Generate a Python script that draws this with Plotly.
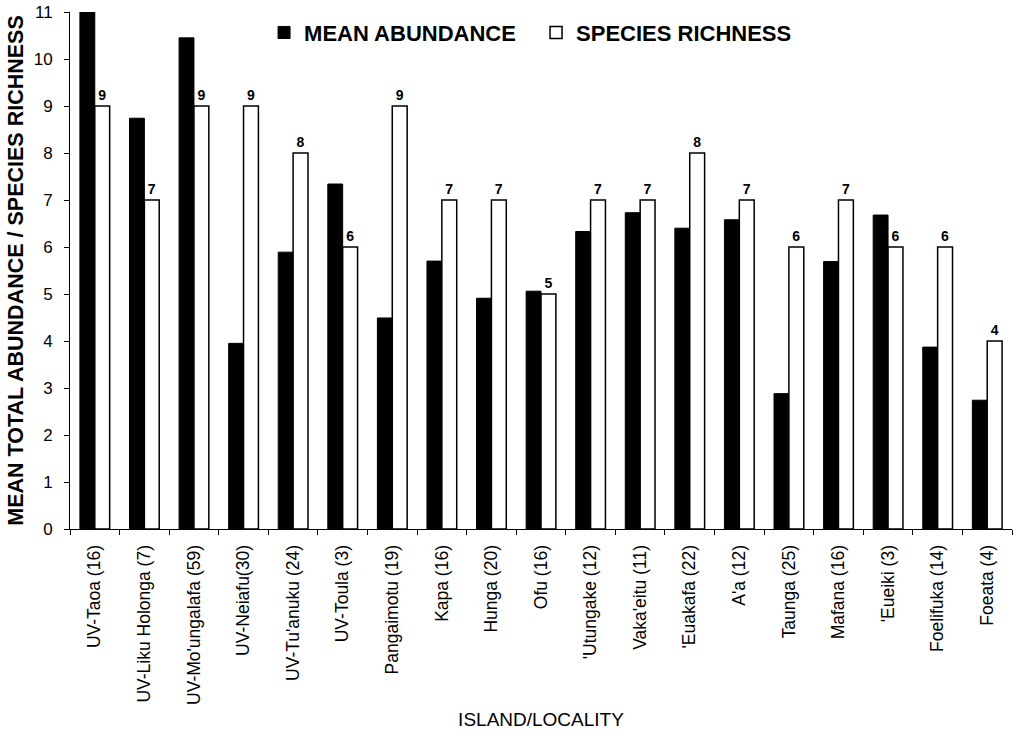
import plotly.graph_objects as go

localities = ["UV-Taoa (16)", "UV-Liku Holonga (7)", "UV-Mo'ungalafa (59)", "UV-Neiafu(30)",
              "UV-Tu'anuku (24)", "UV-Toula (3)", "Pangaimotu (19)", "Kapa (16)", "Hunga (20)",
              "Ofu (16)", "'Utungake (12)", "Vaka'eitu (11)", "'Euakafa (22)", "A'a (12)",
              "Taunga (25)", "Mafana (16)", "'Eueiki (3)", "Foelifuka (14)", "Foeata (4)"]
mean_abundance = [11.0, 8.74, 10.45, 3.95, 5.89, 7.34, 4.49, 5.70, 4.91, 5.06,
                  6.33, 6.73, 6.40, 6.58, 2.88, 5.69, 6.68, 3.87, 2.74]
species_richness = [9, 7, 9, 9, 8, 6, 9, 7, 7, 5, 7, 7, 8, 7, 6, 7, 6, 6, 4]

FONT = "Liberation Sans, Arial, sans-serif"

fig = go.Figure()
fig.add_trace(go.Bar(
    x=localities, y=mean_abundance, name="MEAN ABUNDANCE",
    marker=dict(color="black", line=dict(color="black", width=1)),
))
fig.add_trace(go.Bar(
    x=localities, y=species_richness, name="SPECIES RICHNESS",
    marker=dict(color="white", line=dict(color="black", width=1.5)),
    text=[str(v) for v in species_richness], textposition="outside",
    textfont=dict(family=FONT, size=14, color="black", weight="bold"),
    cliponaxis=False,
))

fig.update_layout(
    width=1024, height=736,
    margin=dict(l=70, r=12, t=12, b=207),
    paper_bgcolor="white", plot_bgcolor="white",
    barmode="group", bargap=0.4, bargroupgap=0,
    font=dict(family=FONT, color="black", size=16),
    showlegend=True,
    legend=dict(
        orientation="h", x=0.206, y=0.96, xanchor="left", yanchor="middle",
        font=dict(family=FONT, size=22, color="black", weight="bold"),
        bgcolor="rgba(0,0,0,0)", entrywidth=227, entrywidthmode="pixels",
        itemwidth=30,
    ),
    xaxis=dict(
        automargin=False,
        showline=True, linecolor="black", linewidth=1,
        ticks="outside", tickson="boundaries", ticklen=5, tickcolor="black",
        ticklabelstandoff=8,
        tickangle=-90, tickfont=dict(family=FONT, size=17.5, color="black"),
        title=dict(text="ISLAND/LOCALITY", font=dict(family=FONT, size=19, color="black"), standoff=8),
        showgrid=False,
    ),
    yaxis=dict(
        automargin=False,
        range=[0, 11], dtick=1, showline=True, linecolor="black", linewidth=1,
        ticks="outside", ticklen=5, tickcolor="black", showgrid=False, zeroline=False,
        ticklabelstandoff=8, ticklabeloverflow="allow",
        tickfont=dict(family=FONT, size=17, color="black"),
        title=dict(text="MEAN TOTAL ABUNDANCE / SPECIES RICHNESS",
                   font=dict(family=FONT, size=21.5, color="black", weight="bold"), standoff=4),
    ),
)

fig.write_html("out.html", config={"displayModeBar": False},
               post_script="document.body.style.margin='0';")
